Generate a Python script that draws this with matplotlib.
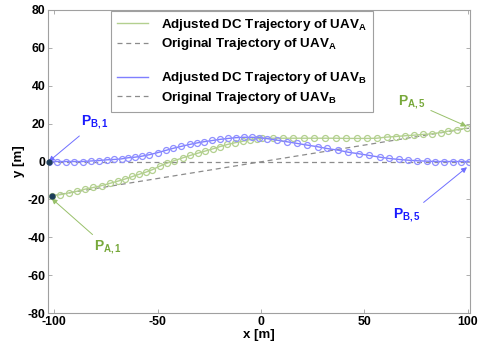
import matplotlib
matplotlib.use("Agg")
import matplotlib.pyplot as plt
from matplotlib.lines import Line2D

plt.rcParams["font.family"] = ["Liberation Sans", "DejaVu Sans"]
plt.rcParams["font.weight"] = "bold"
plt.rcParams["axes.unicode_minus"] = False
plt.rcParams["mathtext.fontset"] = "custom"
plt.rcParams["mathtext.rm"] = "Liberation Sans:bold"
plt.rcParams["mathtext.bf"] = "Liberation Sans:bold"
plt.rcParams["mathtext.it"] = "Liberation Sans:bold"

# adjusted trajectory of UAV B (markers)
uav_b_x = [-102.7, -98.7, -94.5, -90.3, -86.3, -82.3, -78.5, -74.6, -71.0, -67.5,
           -64.3, -61.0, -57.8, -54.0, -50.0, -46.0, -42.4, -38.6, -34.6, -31.1,
           -27.4, -23.5, -19.8, -15.8, -12.1, -8.2, -4.5, -0.8, 2.8, 7.6,
           12.7, 17.2, 22.1, 27.4, 31.7, 37.2, 42.2, 47.3, 52.3, 57.5,
           62.0, 66.7, 71.3, 75.5, 80.1, 84.3, 88.4, 92.6, 96.6, 100.6]
uav_b_y = [0.0, 0.0, 0.0, 0.0, 0.0, 0.3, 0.5, 0.9, 1.1, 1.4,
           2.0, 2.3, 2.8, 3.6, 4.7, 5.9, 7.0, 8.0, 9.0, 9.8,
           10.5, 11.1, 11.7, 12.2, 12.6, 12.8, 12.8, 12.6, 12.1, 11.3,
           10.4, 9.6, 8.7, 7.8, 6.9, 6.0, 4.9, 4.1, 3.2, 2.3,
           1.6, 1.1, 0.7, 0.4, 0.2, 0.0, 0.0, 0.0, 0.0, 0.0]

# adjusted trajectory of UAV A
uav_a_x = [-101.3, -97.1, -93.1, -89.0, -85.2, -81.2, -77.1, -73.1, -69.4, -65.7,
           -62.2, -58.9, -55.7, -52.8, -49.1, -45.6, -41.9, -38.0, -34.3, -30.6,
           -27.1, -23.3, -19.8, -16.3, -12.6, -8.8, -5.3, -1.8, 0.6, 5.9,
           10.8, 15.6, 20.9, 25.7, 30.9, 36.1, 41.1, 46.2, 51.1, 55.9,
           60.7, 65.2, 69.6, 73.9, 78.4, 82.6, 86.8, 90.5, 94.8, 99.4]
uav_a_y = [-18.0, -17.5, -16.6, -15.7, -14.6, -13.7, -12.7, -11.5, -10.4, -9.2,
           -7.9, -6.7, -5.6, -4.4, -2.5, -0.9, 0.5, 1.9, 3.2, 4.4,
           5.5, 6.7, 7.9, 9.0, 9.9, 10.7, 11.6, 12.0, 12.3, 12.3,
           12.3, 12.3, 12.3, 12.3, 12.3, 12.3, 12.2, 12.2, 12.2, 12.3,
           12.9, 13.2, 13.6, 13.9, 14.3, 14.6, 15.3, 16.0, 16.8, 17.6]

# original straight trajectories
orig_a_x = [-101.3, 100.6]
orig_a_y = [-18.0, 17.6]
orig_b_x = [-102.7, 100.6]
orig_b_y = [0.0, 0.0]

green = "#b3d08f"
blue = "#7f7fff"
gray = "#8c8c8c"
dark = "#1c3d5a"

fig = plt.figure(figsize=(4.91, 3.55), dpi=100)
ax = fig.add_axes([0.098, 0.118, 0.859, 0.854])

ax.plot(orig_b_x, orig_b_y, "--", color=gray, lw=0.9, dashes=(4, 3))
ax.plot(orig_a_x, orig_a_y, "--", color=gray, lw=0.9, dashes=(4, 3))
ax.plot(uav_a_x, uav_a_y, "-", color=green, lw=1.0, marker="o",
        mfc="none", mec=green, ms=4.3, mew=0.9)
ax.plot(uav_b_x, uav_b_y, "-", color=blue, lw=1.0, marker="o",
        mfc="none", mec="#8f8fff", ms=4.3, mew=0.9)
ax.plot([uav_a_x[0], uav_b_x[0]], [uav_a_y[0], uav_b_y[0]], "o",
        color=dark, ms=3.5, clip_on=False, zorder=5)

tcol_b = "#1a1aff"
tcol_a = "#77a83a"
arr_b = dict(arrowstyle="-|>", color="#6f6fff", lw=0.7, mutation_scale=8, shrinkA=2, shrinkB=0)
arr_a = dict(arrowstyle="-|>", color="#98c06a", lw=0.7, mutation_scale=8, shrinkA=2, shrinkB=0)
ax.annotate(r"$\mathbf{P_{B,1}}$", xy=(uav_b_x[0], uav_b_y[0]), xytext=(-87, 19),
            color=tcol_b, fontsize=10, arrowprops=arr_b)
ax.annotate(r"$\mathbf{P_{A,1}}$", xy=(uav_a_x[0], uav_a_y[0] - 1.5), xytext=(-81, -47),
            color=tcol_a, fontsize=10, arrowprops=arr_a)
ax.annotate(r"$\mathbf{P_{A,5}}$", xy=(uav_a_x[-1], uav_a_y[-1] + 1), xytext=(66, 30),
            color=tcol_a, fontsize=10, arrowprops=arr_a)
ax.annotate(r"$\mathbf{P_{B,5}}$", xy=(uav_b_x[-1] - 1, uav_b_y[-1] - 3), xytext=(64, -30),
            color=tcol_b, fontsize=10, arrowprops=arr_b)

handles = [
    Line2D([], [], color=green, lw=1.0),
    Line2D([], [], color=gray, lw=0.9, ls="--", dashes=(4, 3)),
    Line2D([], [], color="none"),
    Line2D([], [], color=blue, lw=1.0),
    Line2D([], [], color=gray, lw=0.9, ls="--", dashes=(4, 3)),
]
labels = [
    r"Adjusted DC Trajectory of UAV$_\mathbf{A}$",
    r"Original Trajectory of UAV$_\mathbf{A}$",
    " ",
    r"Adjusted DC Trajectory of UAV$_\mathbf{B}$",
    r"Original Trajectory of UAV$_\mathbf{B}$",
]
leg = ax.legend(handles, labels, loc="upper left", bbox_to_anchor=(0.149, 0.997),
                prop={"size": 9.6, "weight": "bold"}, fancybox=False,
                edgecolor="#a0a0a0", framealpha=1, handlelength=2.3,
                handletextpad=1.0, borderpad=0.45, labelspacing=0.25,
                borderaxespad=0)
leg.get_frame().set_linewidth(0.8)
leg.get_texts()[2].set_fontsize(5.5)

ax.set_xlim(-103, 101)
ax.set_ylim(-80, 80)
ax.set_xticks([-100, -50, 0, 50, 100])
ax.set_yticks([-80, -60, -40, -20, 0, 20, 40, 60, 80])
ax.tick_params(direction="in", top=True, right=True, length=3, width=0.6,
               color="#a0a0a0", labelsize=8.8, pad=2)
for sp in ax.spines.values():
    sp.set_color("#a0a0a0")
    sp.set_linewidth(0.8)
ax.set_xlabel("x [m]", fontsize=9.5, fontweight="bold", labelpad=1)
ax.set_ylabel("y [m]", fontsize=9.5, fontweight="bold", labelpad=2)

fig.savefig("out.png", dpi=100)
